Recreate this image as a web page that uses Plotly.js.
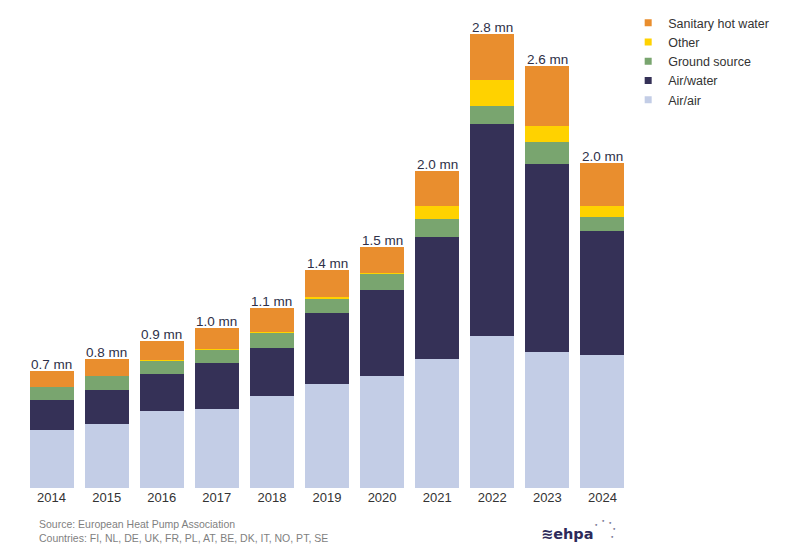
<!DOCTYPE html>
<html>
<head>
<meta charset="utf-8">
<script src="https://cdn.plot.ly/plotly-3.0.1.min.js"></script>
<style>
html,body{margin:0;padding:0;background:#fff;}
#chart{width:787px;height:556px;}
</style>
</head>
<body>
<div id="chart"></div>
<script>
// Heat pump sales, thousands of units
const years = ["2014","2015","2016","2017","2018","2019","2020","2021","2022","2023","2024"];
const airAir = [355, 392, 472, 488, 566, 640, 692, 793, 940, 838, 823];
const airWater = [189, 210, 230, 284, 300, 438, 526, 754, 1303, 1162, 761];
const groundSource = [76, 86, 84, 78, 89, 86, 101, 111, 115, 131, 86];
const other = [3, 3, 3, 9, 8, 12, 4, 78, 158, 99, 72];
const sanitaryHotWater = [101, 105, 115, 130, 144, 171, 165, 218, 284, 374, 261];
const totalLabels = ["0.7 mn","0.8 mn","0.9 mn","1.0 mn","1.1 mn","1.4 mn","1.5 mn","2.0 mn","2.8 mn","2.6 mn","2.0 mn"];

const seriesNames = ["Air/air","Air/water","Ground source","Other","Sanitary hot water"];
const seriesValues = [airAir, airWater, groundSource, other, sanitaryHotWater];
const seriesColors = ["#C3CDE6","#353157","#79A56F","#FFD200","#E98E2E"];

const font = "Liberation Sans, Arial, sans-serif";

const traces = seriesNames.map((n,i)=>({
  type:"bar", name:n, x:years, y:seriesValues[i],
  marker:{color:seriesColors[i], line:{width:0}},
  showlegend:false, hoverinfo:"x+y+name"
}));

// legend entries (small square markers), top to bottom
const legendOrder = [4,3,2,1,0];
legendOrder.forEach(i=>{
  traces.push({type:"scatter", mode:"markers", x:[null], y:[null], name:seriesNames[i],
    marker:{symbol:"square", size:7, color:seriesColors[i]}, showlegend:true, hoverinfo:"skip"});
});

const totals = years.map((y,k)=>seriesValues.reduce((s,arr)=>s+arr[k],0));
const annotations = years.map((y,k)=>({
  x:k, y:totals[k], xref:"x", yref:"y", text:totalLabels[k], showarrow:false,
  yanchor:"bottom", yshift:-3, font:{family:font, size:13.5, color:"#2E3048"}
}));

annotations.push({
  xref:"paper", yref:"paper", x:0.021, y:-0.058, xanchor:"left", yanchor:"top", align:"left",
  showarrow:false, text:"Source: European Heat Pump Association<br>Countries: FI, NL, DE, UK, FR, PL, AT, BE, DK, IT, NO, PT, SE",
  font:{family:font, size:10.5, color:"#7F7F7F"}
});
// ehpa logo
annotations.push({
  xref:"paper", yref:"paper", x:0.943, y:-0.0958, xanchor:"right", yanchor:"middle",
  showarrow:false, text:"<b>≋ehpa</b>", font:{family:"DejaVu Sans, sans-serif", size:14.5, color:"#2D2A5A"}
});
const starPos = [[0.9455,-0.079],[0.957,-0.0702],[0.9686,-0.075],[0.9752,-0.0885],[0.9703,-0.104]];
starPos.forEach(p=>annotations.push({xref:"paper", yref:"paper", x:p[0], y:p[1], showarrow:false,
  xanchor:"center", yanchor:"middle", borderpad:0,
  text:"*", font:{family:font, size:6, color:"#2D2A5A"}}));

const layout = {
  width:787, height:556,
  margin:{l:24, r:157, t:8, b:68, pad:0},
  paper_bgcolor:"#fff", plot_bgcolor:"#fff",
  barmode:"stack", bargap:0.2,
  font:{family:font, color:"#333"},
  xaxis:{type:"category", showgrid:false, zeroline:false, showline:false, ticks:"",
    tickfont:{family:font, size:13, color:"#333"}, range:[-0.5,10.5], fixedrange:true},
  yaxis:{range:[0,2960], visible:false, showgrid:false, zeroline:false, fixedrange:true},
  showlegend:true,
  legend:{x:0.997, xanchor:"left", y:1.0, yanchor:"top", traceorder:"normal",
    font:{family:font, size:12.5, color:"#333"}, bgcolor:"rgba(0,0,0,0)", itemclick:false},
  annotations:annotations
};

Plotly.newPlot("chart", traces, layout, {displayModeBar:false, staticPlot:true});
</script>
</body>
</html>
